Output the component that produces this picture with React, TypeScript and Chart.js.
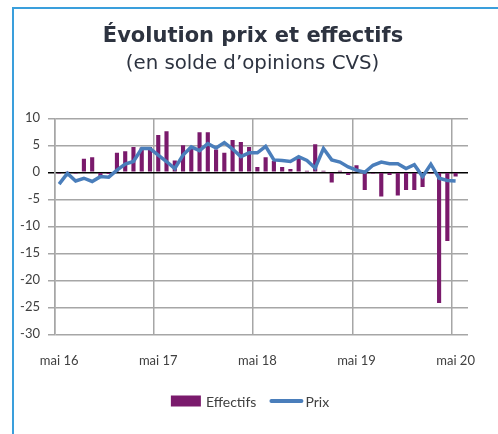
import { useEffect, useRef } from 'react';
import { Chart, registerables } from 'chart.js';

Chart.register(...registerables);

const categories: string[] = [
  'mai 16', 'juin 16', 'juil 16', 'août 16', 'sept 16', 'oct 16', 'nov 16', 'déc 16',
  'janv 17', 'févr 17', 'mars 17', 'avr 17', 'mai 17', 'juin 17', 'juil 17', 'août 17',
  'sept 17', 'oct 17', 'nov 17', 'déc 17', 'janv 18', 'févr 18', 'mars 18', 'avr 18',
  'mai 18', 'juin 18', 'juil 18', 'août 18', 'sept 18', 'oct 18', 'nov 18', 'déc 18',
  'janv 19', 'févr 19', 'mars 19', 'avr 19', 'mai 19', 'juin 19', 'juil 19', 'août 19',
  'sept 19', 'oct 19', 'nov 19', 'déc 19', 'janv 20', 'févr 20', 'mars 20', 'avr 20',
  'mai 20', 'juin 20',
];

const tickLabels: string[] = ['mai 16', 'mai 17', 'mai 18', 'mai 19', 'mai 20'];

const effectifs: number[] = [
  -0.2, 0.1, -0.2, 2.5, 2.8, -0.8, -0.3, 3.6,
  3.9, 4.7, 4.6, 4.7, 6.9, 7.6, 2.2, 5.0,
  4.7, 7.4, 7.4, 4.2, 3.6, 6.0, 5.6, 4.7,
  1.0, 2.8, 2.1, 1.0, 0.6, 2.6, 0.3, 5.2,
  0.3, -1.9, 0.3, -0.5, 1.3, -3.3, -0.2, -4.5,
  -0.5, -4.3, -3.3, -3.3, -2.7, -0.2, -24.2, -12.7,
  -0.8,
];

const prix: number[] = [
  -2.2, -0.2, -1.6, -1.1, -1.7, -0.8, -0.9, 0.4,
  1.5, 2.0, 4.4, 4.4, 3.2, 2.0, 0.7, 3.2,
  4.7, 4.0, 5.3, 4.5, 5.5, 4.3, 2.9, 3.6,
  3.6, 4.8, 2.3, 2.2, 2.0, 2.9, 2.2, 0.8,
  4.4, 2.3, 1.9, 1.0, 0.4, 0.0, 1.3, 1.9,
  1.6, 1.6, 0.7, 1.4, -0.8, 1.5, -1.1, -1.5,
  -1.6,
];

const seriesNames: string[] = ['Effectifs', 'Prix'];

const TITLE = 'Évolution prix et effectifs';
const SUBTITLE = '(en solde d’opinions CVS)';

const PURPLE = '#7a1a6c';
const BLUE = '#4a7ebb';
const GRID = '#a6a6a6';
const TEXT = '#404040';
const TITLE_COLOR = '#2d3340';

const headerLegendPlugin = {
  id: 'headerLegend',
  afterDraw(chart: any) {
    const ctx: CanvasRenderingContext2D = chart.ctx;
    ctx.save();
    // Title
    ctx.fillStyle = TITLE_COLOR;
    ctx.textAlign = 'center';
    ctx.textBaseline = 'alphabetic';
    ctx.font = 'bold 21px "DejaVu Sans"';
    ctx.fillText(TITLE, 253, 41.5);
    ctx.font = '19.8px "DejaVu Sans"';
    ctx.fillText(SUBTITLE, 252.5, 68.5);

    // Legend
    ctx.font = '14px Lato';
    ctx.textAlign = 'left';
    ctx.textBaseline = 'middle';
    const boxW = 30;
    const lineW = 32;
    const gapText = 5;
    const gapItem = 14;
    const w0 = ctx.measureText(seriesNames[0]).width;
    const w1 = ctx.measureText(seriesNames[1]).width;
    const total = boxW + gapText + w0 + gapItem + lineW + 3 + w1;
    let x = 250 - total / 2;
    const cy = 401;
    const meta0 = chart.getDatasetMeta(0);
    const meta1 = chart.getDatasetMeta(1);
    if (meta0 && !meta0.hidden) {
      ctx.fillStyle = PURPLE;
      ctx.fillRect(x, cy - 5.5, boxW, 11);
    }
    x += boxW + gapText;
    ctx.fillStyle = TEXT;
    ctx.fillText(seriesNames[0], x, cy + 1);
    x += w0 + gapItem;
    if (meta1 && !meta1.hidden) {
      ctx.strokeStyle = BLUE;
      ctx.lineWidth = 4;
      ctx.lineCap = 'round';
      ctx.beginPath();
      ctx.moveTo(x + 1, cy);
      ctx.lineTo(x + lineW - 1, cy);
      ctx.stroke();
    }
    x += lineW + 3;
    ctx.fillStyle = TEXT;
    ctx.fillText(seriesNames[1], x, cy + 1);
    ctx.restore();
  },
};

export default function App() {
  const ref = useRef<HTMLCanvasElement>(null);

  useEffect(() => {
    const canvas = ref.current;
    if (!canvas) return;
    const chart = new Chart(canvas, {
      type: 'bar',
      data: {
        labels: categories,
        datasets: [
          {
            type: 'bar',
            label: seriesNames[0],
            data: effectifs,
            backgroundColor: PURPLE,
            borderWidth: 0,
            categoryPercentage: 1,
            barPercentage: 0.5,
            order: 2,
          },
          {
            type: 'line',
            label: seriesNames[1],
            data: prix,
            borderColor: BLUE,
            backgroundColor: BLUE,
            borderWidth: 3.5,
            pointRadius: 0,
            tension: 0,
            order: 1,
          } as any,
        ],
      },
      plugins: [headerLegendPlugin],
      options: {
        responsive: false,
        animation: false,
        devicePixelRatio: 1,
        layout: { padding: { top: 118.3, left: 0, right: 30, bottom: 53.7 } },
        plugins: {
          title: { display: false },
          subtitle: { display: false },
          legend: { display: false },
          tooltip: { enabled: false },
        },
        scales: {
          x: {
            type: 'category',
            offset: true,
            grid: {
              offset: true,
              drawTicks: false,
              lineWidth: 1.5,
              color: (ctx: any) => {
                const lab = categories[ctx.index];
                return lab && tickLabels.includes(lab) ? GRID : 'rgba(0,0,0,0)';
              },
            },
            border: { display: false },
            ticks: {
              autoSkip: false,
              maxRotation: 0,
              minRotation: 0,
              padding: 19,
              color: TEXT,
              font: { family: 'Lato', size: 13 },
              callback: (_v: any, i: number) => (tickLabels.includes(categories[i]) ? categories[i] : ''),
            },
            afterFit: (scale: any) => {
              scale.height = 46;
            },
          },
          y: {
            min: -30,
            max: 10,
            grid: {
              tickLength: 7,
              lineWidth: 1.5,
              color: (ctx: any) => (ctx.tick && ctx.tick.value === 0 ? '#000000' : GRID),
            },
            border: { display: true, color: GRID, width: 1.5 },
            ticks: {
              stepSize: 5,
              padding: 8,
              color: TEXT,
              font: { family: 'Lato', size: 13 },
              callback: (v: any) => String(v),
            },
            afterFit: (scale: any) => {
              scale.width = 55;
            },
          },
        },
      },
    });
    return () => chart.destroy();
  }, []);

  return (
    <div style={{ position: 'fixed', left: 0, top: 0, width: 498, height: 434, background: '#ffffff' }}>
      <div
        style={{
          position: 'absolute',
          left: 12,
          top: 7,
          right: 0,
          bottom: 0,
          borderTop: '2px solid #3a9fdc',
          borderLeft: '2px solid #3a9fdc',
        }}
      />
      <canvas ref={ref} width={498} height={434} style={{ position: 'absolute', left: 0, top: 0 }} />
    </div>
  );
}
